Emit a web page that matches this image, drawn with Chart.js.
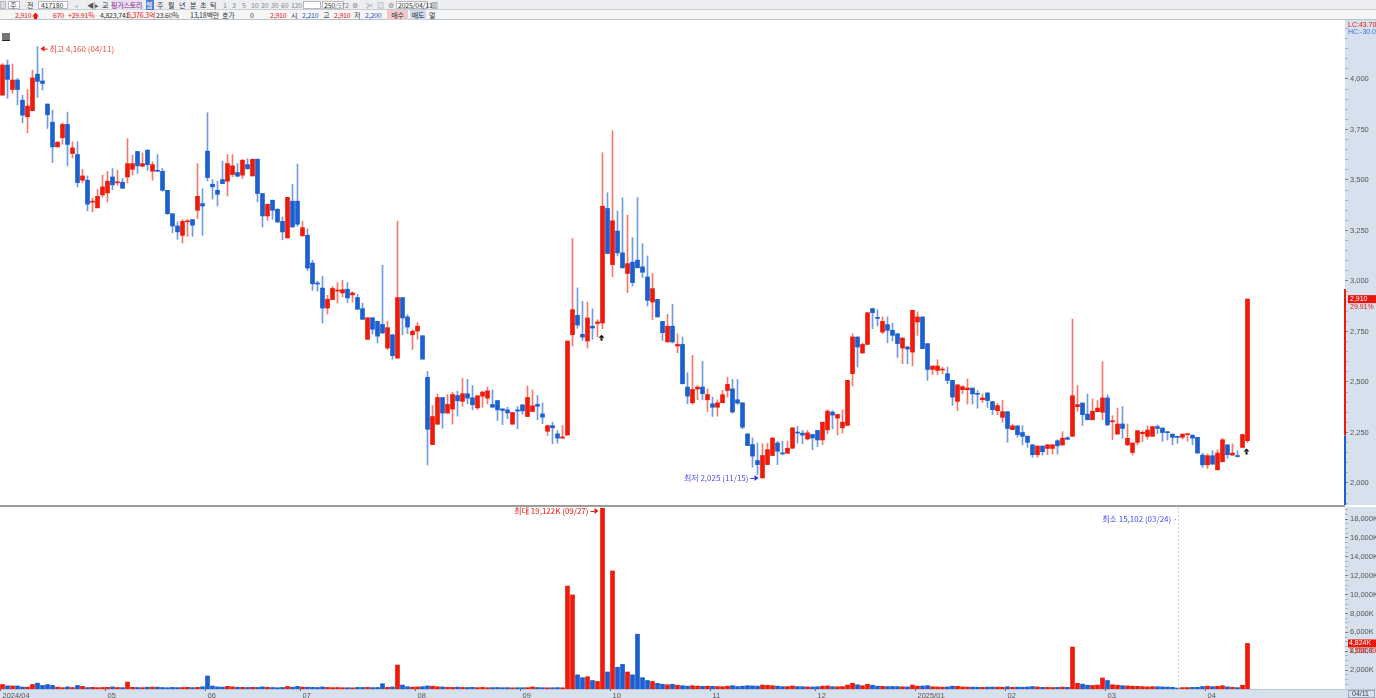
<!DOCTYPE html>
<html>
<head>
<meta charset="utf-8">
<script src="https://cdn.jsdelivr.net/npm/chart.js@4.4.1/dist/chart.umd.min.js"></script>
<style>
body{margin:0;width:1376px;height:698px;overflow:hidden;background:#fff;font-family:'Noto Sans CJK KR','Liberation Sans',sans-serif;position:relative}
#bar1{position:absolute;left:0;top:0;width:1376px;height:10px;background:#eceef1;border-bottom:1px solid #c9ccd2;box-sizing:border-box}
#bar2{position:absolute;left:0;top:10px;width:1376px;height:10px;background:#f6f6f6;border-bottom:1px solid #b8c2cf;box-sizing:border-box}
.t{position:absolute;top:0;font-size:7px;line-height:10px;white-space:nowrap;color:#333;letter-spacing:-0.2px}
.box{position:absolute;top:1px;height:8px;background:#fff;border:1px solid #b5b9c0;box-sizing:border-box}
#price{position:absolute;left:0;top:20px}
#vol{position:absolute;left:0;top:507px}
#sep{position:absolute;left:0;top:505px;width:1345px;height:2px;background:#9c9c9c}
#ico{position:absolute;left:2px;top:33px;width:8px;height:7px;background:#777;border-bottom:1px solid #222}
</style>
</head>
<body>
<div id="bar1">
  <div class="box" style="left:0;width:6px;background:#ddd"></div>
  <div class="box" style="left:8px;width:12px"></div><span class="t" style="left:10px">주</span>
  <span class="t" style="left:27px">전</span>
  <div class="box" style="left:38px;width:30px"></div><span class="t" style="left:41px">417180</span>
  <span class="t" style="left:75px;color:#777">⌕</span>
  <span class="t" style="left:87px;color:#555">◀|▸</span>
  <span class="t" style="left:102px">교</span>
  <span class="t" style="left:111px;color:#8a1f8e;background:#e6e0ee">핑거스토리</span>
  <span class="t" style="left:146px;color:#fff;background:#4b7bd2;width:8px">웹</span>
  <span class="t" style="left:157px">주</span><span class="t" style="left:168px">월</span><span class="t" style="left:179px">년</span>
  <span class="t" style="left:190px">분</span><span class="t" style="left:200px">초</span><span class="t" style="left:210px">틱</span>
  <span class="t" style="left:223px;color:#888">1</span><span class="t" style="left:232px;color:#888">3</span><span class="t" style="left:242px;color:#888">5</span>
  <span class="t" style="left:251px;color:#888">10</span><span class="t" style="left:261px;color:#888">20</span><span class="t" style="left:271px;color:#888">30</span>
  <span class="t" style="left:281px;color:#888">60</span><span class="t" style="left:291px;color:#888">120</span>
  <div class="box" style="left:303px;width:18px"></div>
  <div class="box" style="left:322px;width:22px"></div><span class="t" style="left:324px">250</span><span class="t" style="left:335px;color:#888">/572</span>
  <span class="t" style="left:352px;color:#888">⚙</span><span class="t" style="left:366px;color:#888">✂</span><span class="t" style="left:377px;color:#888">▤</span><span class="t" style="left:388px;color:#888">⚙</span>
  <div class="box" style="left:396px;width:32px"></div><span class="t" style="left:398px">2025/04/11</span>
  <span class="t" style="left:431px;color:#666">▦</span>
</div>
<div id="bar2">
  <span class="t" style="left:15px;color:#e8150a">2,910</span><span class="t" style="left:32px;color:#e8150a">🡅</span>
  <span class="t" style="left:53px;color:#e8150a">670</span><span class="t" style="left:68px;color:#e8150a">+29.91%</span>
  <span class="t" style="left:100px">4,823,741</span><span class="t" style="left:127px;color:#e8150a">5,376.3억</span>
  <span class="t" style="left:156px">23.60%</span>
  <span class="t" style="left:190px">13,18백만</span><span class="t" style="left:222px">호가</span>
  <span class="t" style="left:250px">0</span>
  <span class="t" style="left:270px;color:#e8150a">2,910</span>
  <span class="t" style="left:291px">시</span><span class="t" style="left:302px;color:#1b55c9">2,210</span>
  <span class="t" style="left:323px">고</span><span class="t" style="left:334px;color:#e8150a">2,910</span>
  <span class="t" style="left:354px">저</span><span class="t" style="left:365px;color:#1b55c9">2,200</span>
  <span class="t" style="left:387px;width:21px;text-align:center;background:#f2c9c9">매수</span>
  <span class="t" style="left:410px;width:16px;text-align:center;background:#c9d8f0">매도</span>
  <span class="t" style="left:429px">멀</span>
</div>
<div id="ico"></div>
<canvas id="price" width="1376" height="485"></canvas>
<div id="sep"></div>
<canvas id="vol" width="1376" height="191"></canvas>
<script>
// 핑거스토리(417180) 일봉 2024/04/01 ~ 2025/04/11
const monthLabels = ['2024/04','05','06','07','08','09','10','11','12','2025/01','02','03','04']
const monthDays = [21,20,19,23,21,18,20,21,20,18,20,20,9]
const emptySlots = 19

const opens = [3920,4069,3948,3995,3895,3813,3843,4024,3990,3876,3786,3664,3709,3775,3631,3626,3499,3499,3390,3362,3426,
  3436,3515,3486,3489,3515,3553,3641,3568,3648,3543,3548,3543,3449,3333,3272,3226,3293,3304,3350,3383,
  3643,3479,3449,3502,3494,3527,3537,3524,3576,3520,3603,3433,3322,3400,3355,3295,3213,3395,3395,
  3223,3226,3089,2990,2965,2866,2908,2950,2941,2959,2931,2918,2863,2711,2818,2800,2785,2668,2734,2618,2918,2822,2734,
  2752,2729,2523,2190,2291,2423,2346,2366,2433,2404,2442,2422,2372,2430,2420,2389,2408,2367,2362,2291,2362,
  2387,2329,2354,2389,2342,2256,2284,2243,2222,2237,2734,2830,2736,2703,2776,2790,2792,3359,
  3081,3247,3139,3037,3093,3103,3070,3020,2896,2909,2800,2698,2776,2678,2686,2475,2397,2465,2475,2412,
  2392,2375,2397,2458,2466,2412,2397,2243,2190,2111,2025,2091,2136,2198,2148,2147,2172,2252,2247,2218,2240,
  2260,2213,2263,2351,2321,2273,2285,2541,2723,2643,2686,2863,2819,2747,2784,2756,2739,2668,2673,2648,
  2797,2822,2690,2562,2557,2559,2541,2508,2404,2462,2462,2470,2443,2412,2446,2403,2358,2325,
  2353,2264,2283,2250,2232,2189,2140,2183,2171,2171,2209,2188,2224,2231,2378,2396,2341,2313,2353,2350,
  2421,2303,2242,2292,2189,2151,2201,2244,2231,2231,2279,2272,2252,2242,2229,2226,2239,2237,2226,2138,
  2090,2135,2065,2105,2189,2138,2135,2176,2210]
const highs = [4077,4094,4074,4003,3920,3948,4044,4160,4052,3876,3846,3690,3783,3836,3689,3689,3552,3520,3411,3454,3524,
  3543,3557,3548,3507,3705,3623,3641,3634,3648,3590,3626,3557,3449,3333,3292,3304,3304,3304,3581,3457,
  3833,3502,3494,3593,3626,3626,3581,3601,3605,3603,3603,3433,3380,3400,3358,3317,3414,3479,3579,
  3295,3259,3103,2999,3023,2929,2973,2992,3003,2992,2946,2934,2891,2818,2818,2800,3078,2800,2734,3296,2918,2833,2759,
  2794,2729,2552,2384,2441,2423,2438,2450,2455,2519,2513,2483,2432,2455,2475,2461,2408,2367,2375,2349,2379,
  2387,2481,2461,2433,2397,2284,2301,2260,2284,2703,3210,2966,2899,2896,2863,2808,3635,3437,
  3744,3347,3412,3326,3215,3413,3185,3124,3037,2909,2800,2835,2885,2739,2723,2546,2632,2483,2602,2466,
  2425,2412,2458,2524,2513,2513,2397,2243,2223,2198,2194,2197,2223,2207,2207,2207,2273,2280,2260,2260,2240,
  2260,2301,2362,2359,2342,2362,2508,2739,2723,2693,2843,2866,2858,2822,2822,2792,2739,2718,2678,2855,
  2847,2822,2690,2579,2610,2574,2574,2508,2486,2482,2515,2470,2457,2441,2446,2403,2394,2408,
  2353,2292,2283,2283,2232,2189,2183,2183,2189,2189,2214,2254,2229,2812,2482,2396,2441,2416,2408,2601,
  2436,2333,2371,2378,2292,2198,2259,2259,2283,2279,2287,2272,2255,2242,2229,2242,2242,2237,2226,2148,
  2143,2160,2165,2221,2189,2193,2160,2239,2910]
const lows = [3920,3904,3929,3871,3783,3733,3843,3909,3945,3755,3586,3664,3677,3570,3609,3466,3486,3347,3342,3362,3416,
  3391,3452,3474,3459,3485,3524,3532,3565,3548,3499,3543,3444,3330,3238,3206,3188,3221,3221,3309,3226,
  3495,3405,3371,3482,3421,3515,3515,3507,3555,3520,3391,3267,3300,3305,3289,3204,3213,3267,3271,
  3223,3052,2953,2950,2791,2836,2907,2891,2921,2893,2896,2860,2810,2711,2737,2693,2742,2660,2613,2618,2734,2739,2661,
  2711,2613,2089,2190,2291,2271,2346,2291,2331,2380,2392,2362,2364,2375,2392,2375,2309,2289,2318,2291,2268,
  2340,2329,2354,2313,2293,2235,2194,2197,2222,2237,2678,2766,2706,2668,2711,2723,2764,3136,
  3020,3124,3065,2942,2975,3065,3017,2876,2808,2822,2706,2698,2693,2645,2491,2392,2389,2412,2412,2354,
  2329,2331,2397,2425,2346,2389,2268,2185,2078,2041,2025,2091,2136,2091,2139,2147,2172,2197,2194,2213,2164,
  2180,2190,2243,2268,2238,2248,2285,2480,2574,2643,2686,2764,2777,2739,2693,2703,2620,2590,2590,2579,
  2731,2665,2508,2537,2537,2541,2491,2384,2358,2441,2391,2391,2370,2399,2374,2338,2338,2300,
  2201,2264,2226,2189,2176,2127,2127,2138,2140,2143,2143,2188,2216,2231,2355,2284,2313,2313,2353,2313,
  2283,2214,2242,2221,2184,2138,2188,2206,2217,2231,2246,2206,2212,2189,2196,2217,2206,2189,2148,2077,
  2072,2093,2065,2105,2122,2138,2127,2176,2200]
const closes = [4069,3998,3995,3948,3821,3866,4005,3988,3978,3823,3664,3687,3775,3676,3659,3487,3520,3380,3395,3419,3466,
  3494,3476,3490,3459,3581,3581,3570,3581,3576,3576,3543,3449,3333,3272,3243,3295,3296,3276,3419,3371,
  3512,3466,3429,3482,3581,3570,3519,3598,3555,3603,3433,3322,3380,3350,3292,3243,3414,3267,3281,
  3264,3064,2986,2985,2866,2909,2963,2955,2957,2916,2941,2860,2810,2818,2761,2727,2742,2769,2630,2918,2817,2772,2751,
  2776,2613,2266,2329,2423,2346,2389,2438,2407,2442,2420,2387,2432,2450,2456,2375,2362,2359,2347,2349,2356,
  2357,2423,2382,2380,2326,2284,2273,2222,2228,2703,2858,2782,2722,2817,2767,2797,3370,3136,
  3298,3139,3065,3086,2992,3065,3043,2904,2962,2822,2744,2776,2698,2686,2491,2430,2463,2475,2442,2438,
  2375,2397,2437,2488,2351,2395,2276,2185,2133,2091,2136,2165,2223,2157,2144,2172,2273,2247,2237,2248,2223,
  2213,2301,2356,2336,2339,2301,2508,2723,2673,2686,2843,2843,2815,2800,2756,2731,2690,2718,2663,2855,
  2822,2665,2562,2579,2579,2563,2508,2425,2486,2477,2470,2441,2439,2421,2408,2363,2383,2353,
  2270,2283,2239,2231,2201,2140,2183,2155,2189,2189,2184,2222,2216,2432,2388,2338,2313,2355,2371,2421,
  2288,2306,2292,2270,2221,2198,2259,2251,2262,2279,2270,2250,2249,2226,2226,2242,2242,2222,2148,2090,
  2135,2093,2148,2214,2140,2148,2131,2240,2910]
// 거래량 (천주)
const volumes = [480,340,330,320,210,200,480,620,380,470,380,200,150,230,160,380,280,150,180,150,160,
  180,220,160,150,740,180,160,150,190,200,200,160,140,170,150,160,180,150,170,240,
  1380,320,220,200,280,230,190,180,160,180,170,230,180,160,140,170,270,190,280,
  200,190,180,160,220,170,150,160,140,140,130,170,160,170,150,160,560,170,220,2540,420,240,200,
  220,250,320,300,240,220,170,170,200,170,160,180,150,170,140,150,160,140,150,130,140,
  140,150,220,160,140,130,140,150,130,10900,9960,1500,1200,1300,900,800,19122,1800,
  12500,2300,2600,1800,1500,5800,1200,900,800,600,500,450,500,400,350,300,350,300,280,300,
  280,260,250,300,350,260,300,350,330,300,420,380,350,300,250,260,320,260,250,230,220,
  240,300,330,250,240,260,420,600,450,350,500,400,300,280,260,270,260,240,220,420,
  300,320,360,240,220,200,220,300,280,220,200,200,190,180,200,210,200,180,
  240,180,200,190,210,260,220,180,170,160,170,200,180,4450,600,520,400,380,420,1170,
  900,450,400,350,330,300,280,250,230,250,240,220,200,180,15.1,150,160,170,180,260,
  300,250,280,350,230,180,150,400,4823.7]

const priceMajor = [2000,2250,2500,2750,3000,3250,3500,3750,4000]
const volMajor = [2000,4000,6000,8000,10000,12000,14000,16000,18000]

const RED = '#ee1b0b', BLUE = '#1c5fd0'
const RED_W = 'rgba(238,40,20,0.62)', BLUE_W = 'rgba(28,95,208,0.62)'
const AXIS_BG = '#d7e1ee'

let labels = []
monthLabels.forEach((m, k) => { for (let d = 0; d < monthDays[k]; d++) labels.push(d === 0 ? m : '') })
for (let i = 0; i < emptySlots; i++) labels.push('')

const isUp = i => closes[i] >= opens[i]
const hiIdx = highs.indexOf(Math.max(...highs))
const loIdx = lows.indexOf(Math.min(...lows))
const vMaxIdx = volumes.indexOf(Math.max(...volumes))
const vMinIdx = volumes.indexOf(Math.min(...volumes))
const last = closes.length - 1
const fmt = v => v.toLocaleString('en-US')
const FONT = '8px "Noto Sans CJK KR", "Liberation Sans", sans-serif'
const SMALL = '7px "Liberation Sans", sans-serif'

function axisFit(s) { s.width = 31; s.paddingTop = 0; s.paddingBottom = 0 }

const pricePlugin = {
  id: 'priceDeco',
  beforeDraw(chart) {
    const {ctx, chartArea} = chart
    ctx.save()
    ctx.fillStyle = AXIS_BG
    ctx.fillRect(chartArea.right, 0, chart.width - chartArea.right, chart.height)
    ctx.restore()
  },
  afterDraw(chart) {
    const {ctx, chartArea} = chart
    const x = chart.scales.x, y = chart.scales.y
    ctx.save()
    ctx.font = SMALL
    ctx.textBaseline = 'middle'
    // axis header
    ctx.fillStyle = '#e8150a'; ctx.fillText('LC:43.70', chartArea.right + 3, 5)
    ctx.fillStyle = '#3b6fd6'; ctx.fillText('HC:-30.05', chartArea.right + 3, 12)
    // current bar on axis edge
    ctx.fillStyle = RED
    ctx.fillRect(chartArea.right - 1, y.getPixelForValue(2960), 2, y.getPixelForValue(2235) - y.getPixelForValue(2960))
    ctx.fillStyle = BLUE
    ctx.fillRect(chartArea.right - 1, y.getPixelForValue(2235), 2, chartArea.bottom - y.getPixelForValue(2235))
    // current price box
    const py = y.getPixelForValue(closes[last])
    ctx.fillStyle = '#e8150a'
    ctx.fillRect(chartArea.right + 3, py - 4, chart.width - chartArea.right - 3, 8)
    ctx.fillStyle = '#fff'; ctx.fillText(fmt(closes[last]), chartArea.right + 5, py)
    ctx.fillStyle = '#e8150a'; ctx.fillText('29.91%', chartArea.right + 5, py + 8)
    ctx.font = FONT
    // high
    let hx = x.getPixelForValue(hiIdx) + 3, hy = y.getPixelForValue(highs[hiIdx]) + 2
    ctx.fillStyle = '#e8150a'
    ctx.beginPath(); ctx.moveTo(hx, hy); ctx.lineTo(hx + 4, hy - 3); ctx.lineTo(hx + 4, hy + 3); ctx.fill()
    ctx.fillRect(hx + 4, hy, 3, 1)
    ctx.fillStyle = '#f04a3a'
    ctx.fillText('최고 ' + fmt(highs[hiIdx]) + ' (04/11)', hx + 9, hy)
    // low
    let lx = x.getPixelForValue(loIdx) - 4, ly = y.getPixelForValue(lows[loIdx])
    ctx.fillStyle = '#2a2ae8'
    ctx.beginPath(); ctx.moveTo(lx, ly); ctx.lineTo(lx - 4, ly - 3); ctx.lineTo(lx - 4, ly + 3); ctx.fill()
    ctx.fillRect(lx - 8, ly, 4, 1)
    ctx.fillStyle = '#5050f0'
    ctx.textAlign = 'right'
    ctx.fillText('최저 ' + fmt(lows[loIdx]) + ' (11/15)', lx - 10, ly)
    // signal markers
    ctx.fillStyle = '#111'
    ;[120, last].forEach(i => {
      const mx = x.getPixelForValue(i) - 1, my = y.getPixelForValue(lows[i]) + 6
      ctx.beginPath(); ctx.moveTo(mx, my); ctx.lineTo(mx + 3, my + 3); ctx.lineTo(mx - 3, my + 3); ctx.fill()
      ctx.fillRect(mx - 1, my + 3, 2, 3)
    })
    ctx.restore()
  }
}

const volPlugin = {
  id: 'volDeco',
  beforeDraw(chart) {
    const {ctx, chartArea} = chart
    ctx.save()
    ctx.fillStyle = AXIS_BG
    ctx.fillRect(chartArea.right, 0, chart.width - chartArea.right, chart.height)
    ctx.fillRect(0, chartArea.bottom, chart.width, chart.height - chartArea.bottom)
    ctx.fillStyle = '#b8c4d4'
    ctx.fillRect(0, chartArea.bottom, chart.width, 1)
    ctx.restore()
  },
  afterDraw(chart) {
    const {ctx, chartArea} = chart
    const x = chart.scales.x, y = chart.scales.y
    ctx.save()
    ctx.font = FONT
    ctx.textBaseline = 'middle'
    // max volume
    const mx = x.getPixelForValue(vMaxIdx) - 4, my = 4
    ctx.fillStyle = '#e8150a'
    ctx.beginPath(); ctx.moveTo(mx, my); ctx.lineTo(mx - 4, my - 3); ctx.lineTo(mx - 4, my + 3); ctx.fill()
    ctx.fillRect(mx - 8, my, 4, 1)
    ctx.textAlign = 'right'
    ctx.fillText('최대 ' + fmt(Math.round(volumes[vMaxIdx])) + 'K (09/27)', mx - 10, my)
    // min volume
    const nx = Math.round(x.getPixelForValue(vMinIdx)) + 0.5
    ctx.strokeStyle = '#c9c9f2'; ctx.setLineDash([2, 2])
    ctx.beginPath(); ctx.moveTo(nx, chartArea.top); ctx.lineTo(nx, chartArea.bottom); ctx.stroke()
    ctx.setLineDash([])
    ctx.fillStyle = '#4848ee'
    ctx.fillText('최소 15,102 (03/24) ·', nx - 1, 12)
    // current volume box
    ctx.textAlign = 'left'
    ctx.font = SMALL
    const vy = y.getPixelForValue(volumes[last])
    ctx.fillStyle = '#e8150a'
    ctx.fillRect(chartArea.right + 3, vy - 4, chart.width - chartArea.right - 3, 8)
    ctx.fillStyle = '#fff'; ctx.fillText('4,824K', chartArea.right + 4, vy)
    ctx.fillStyle = '#e8150a'; ctx.fillText('1,558,39', chartArea.right + 4, vy + 8)
    // date corner box
    ctx.strokeStyle = '#9aa6b8'
    ctx.strokeRect(chartArea.right + 3.5, chartArea.bottom + 1.5, chart.width - chartArea.right - 5, chart.height - chartArea.bottom - 2)
    ctx.fillStyle = '#444'
    ctx.fillText('04/11', chartArea.right + 7, chartArea.bottom + 5)
    ctx.restore()
  }
}

const tickFont = {family: 'Liberation Sans', size: 7.5}

new Chart(document.getElementById('price'), {
  type: 'bar',
  data: {
    labels: labels,
    datasets: [{
      data: opens.map((o, i) => [o, closes[i]]),
      backgroundColor: opens.map((o, i) => isUp(i) ? RED : BLUE),
      barThickness: 4, minBarLength: 1, grouped: false
    }, {
      data: lows.map((l, i) => [l, highs[i]]),
      backgroundColor: opens.map((o, i) => isUp(i) ? RED_W : BLUE_W),
      barThickness: 1, minBarLength: 1, grouped: false
    }]
  },
  options: {
    responsive: false, animation: false, devicePixelRatio: 1,
    layout: {padding: 0},
    plugins: {legend: {display: false}, tooltip: {enabled: false}},
    scales: {
      x: {display: false, offset: true},
      y: {
        position: 'right', min: 1891, max: 4292,
        afterBuildTicks: s => { const t = []; for (let v = 1900; v <= 4250; v += 50) t.push({value: v}); s.ticks = t },
        afterFit: axisFit,
        border: {display: false},
        grid: {drawOnChartArea: false, tickLength: 3,
          tickColor: c => priceMajor.includes(c.tick.value) ? '#7c7c7c' : '#a9b3c3'},
        ticks: {font: tickFont, color: '#555', padding: 2, autoSkip: false,
          callback: v => priceMajor.includes(v) ? fmt(v) : ''}
      }
    }
  },
  plugins: [pricePlugin]
})

new Chart(document.getElementById('vol'), {
  type: 'bar',
  data: {
    labels: labels,
    datasets: [{
      data: volumes,
      backgroundColor: opens.map((o, i) => isUp(i) ? RED : BLUE),
      barThickness: 4, minBarLength: 1
    }]
  },
  options: {
    responsive: false, animation: false, devicePixelRatio: 1,
    layout: {padding: 0},
    plugins: {legend: {display: false}, tooltip: {enabled: false}},
    scales: {
      x: {
        offset: true,
        afterFit: s => { s.height = 9; s.paddingLeft = 0; s.paddingRight = 0 },
        border: {display: false},
        grid: {drawOnChartArea: false, tickLength: 2,
          tickColor: c => labels[c.index] ? '#666' : 'rgba(0,0,0,0)'},
        ticks: {font: tickFont, color: '#555', padding: 0, autoSkip: false, maxRotation: 0, align: 'start',
          callback: (v, i) => labels[i]}
      },
      y: {
        position: 'right', min: 0, max: 19271,
        afterBuildTicks: s => { const t = []; for (let v = 500; v <= 19000; v += 500) t.push({value: v}); s.ticks = t },
        afterFit: axisFit,
        border: {display: false},
        grid: {drawOnChartArea: false, tickLength: 3,
          tickColor: c => volMajor.includes(c.tick.value) ? '#7c7c7c' : '#a9b3c3'},
        ticks: {font: tickFont, color: '#555', padding: 2, autoSkip: false,
          callback: v => volMajor.includes(v) ? fmt(v) + 'K' : ''}
      }
    }
  },
  plugins: [volPlugin]
})
</script>
</body>
</html>
